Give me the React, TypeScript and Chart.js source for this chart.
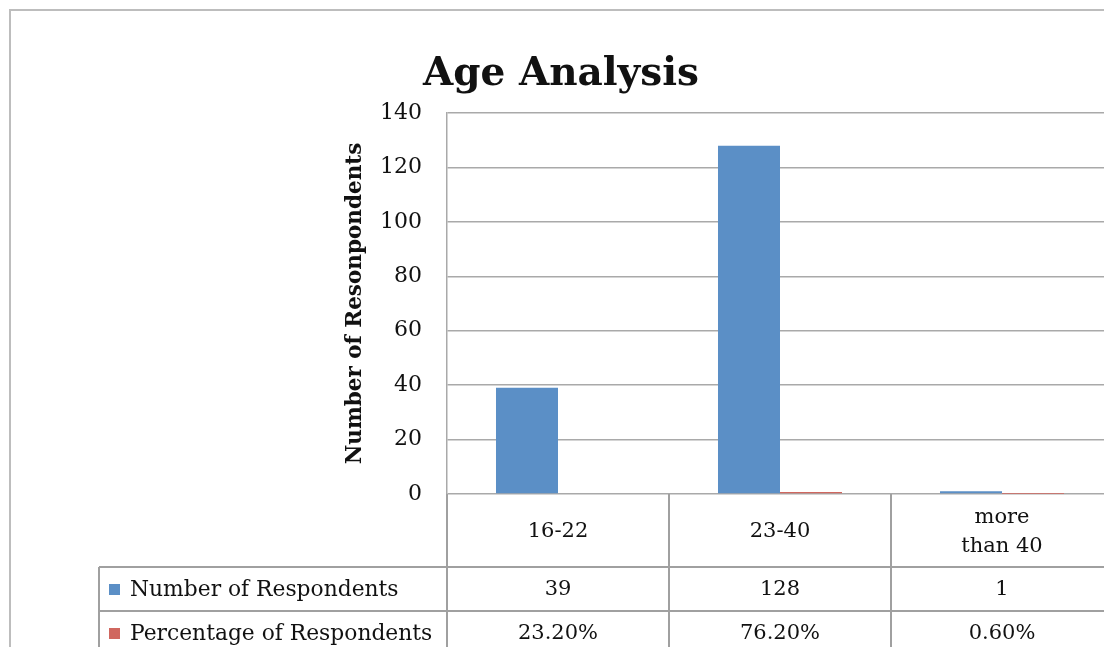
import React, { useEffect, useRef } from "react";
import { Chart, registerables } from "chart.js";

Chart.register(...registerables);

const chartTitle = "Age Analysis";
const yAxisTitle = "Number of Resonpondents";
const categories: (string | string[])[] = ["16-22", "23-40", ["more", "than 40"]];
const seriesNames = ["Number of Respondents", "Percentage of Respondents"];
const respondents = [39, 128, 1];
const percentages = [0.232, 0.762, 0.006];
const yMin = 0;
const yMax = 140;
const yStep = 20;

const BLUE = "#5b8fc6";
const RED = "#d0675f";
const GRID = "#a9a9a9";
const LINE = "#a0a0a0";
const TEXT = "#111111";
const FONT = "'DejaVu Serif', serif";

const fmtPct = (v: number) => (v * 100).toFixed(2) + "%";

const tablePlugin = {
  id: "dataTable",
  afterDraw(chart: any) {
    const ctx: CanvasRenderingContext2D = chart.ctx;
    const { left, right, bottom } = chart.chartArea;
    const xs = chart.scales.x;
    const n = categories.length;
    const cw = (right - left) / n;
    const row1 = bottom + 73;
    const row2 = row1 + 44;
    const row3 = row2 + 44;
    const legendLeft = 99;
    ctx.save();

    // outer chart border (top and left visible)
    ctx.strokeStyle = "#bdbdbd";
    ctx.lineWidth = 2;
    ctx.beginPath();
    ctx.moveTo(10, chart.height + 10);
    ctx.lineTo(10, 10);
    ctx.lineTo(chart.width + 10, 10);
    ctx.stroke();

    // title
    ctx.fillStyle = TEXT;
    ctx.font = `bold 39px ${FONT}`;
    ctx.textAlign = "center";
    ctx.textBaseline = "alphabetic";
    ctx.fillText(chartTitle, 561, 85);

    // table lines
    ctx.strokeStyle = LINE;
    ctx.lineWidth = 2;
    ctx.beginPath();
    for (let i = 0; i <= n; i++) {
      const x = left + i * cw;
      ctx.moveTo(x, bottom);
      ctx.lineTo(x, row3);
    }
    ctx.moveTo(legendLeft, row1);
    ctx.lineTo(legendLeft, row3);
    [row1, row2, row3].forEach((y) => {
      ctx.moveTo(legendLeft, y);
      ctx.lineTo(right, y);
    });
    ctx.stroke();

    // category labels
    ctx.font = `21px ${FONT}`;
    ctx.textBaseline = "middle";
    ctx.textAlign = "center";
    const c1 = bottom + 38;
    categories.forEach((c, i) => {
      const x = xs.getPixelForValue(i);
      const lines = Array.isArray(c) ? c : [c];
      const lh = 29;
      lines.forEach((ln, j) => {
        ctx.fillText(ln, x, c1 + (j - (lines.length - 1) / 2) * lh);
      });
    });

    // values rows
    const r2 = row1 + 23;
    const r3 = row2 + 23;
    respondents.forEach((v, i) => ctx.fillText(String(v), xs.getPixelForValue(i), r2));
    percentages.forEach((v, i) => ctx.fillText(fmtPct(v), xs.getPixelForValue(i), r3));

    // legend keys
    ctx.textAlign = "left";
    ctx.font = `21.8px ${FONT}`;
    [BLUE, RED].forEach((col, k) => {
      const cy = k === 0 ? r2 : r3;
      ctx.fillStyle = col;
      ctx.fillRect(109, cy - 6, 11, 11);
      ctx.fillStyle = TEXT;
      ctx.fillText(seriesNames[k], 130, cy);
    });
    ctx.restore();
  },
};

export default function App() {
  const ref = useRef<HTMLCanvasElement | null>(null);
  useEffect(() => {
    if (!ref.current) return;
    const chart = new Chart(ref.current, {
      type: "bar",
      data: {
        labels: categories as any,
        datasets: [
          { label: seriesNames[0], data: respondents, backgroundColor: BLUE, categoryPercentage: 0.5586, barPercentage: 1 },
          { label: seriesNames[1], data: percentages, backgroundColor: RED, categoryPercentage: 0.5586, barPercentage: 1 },
        ],
      },
      options: {
        animation: false,
        responsive: true,
        maintainAspectRatio: false,
        layout: { padding: { left: 340, top: 113, right: 87, bottom: 186 } },
        plugins: { legend: { display: false }, title: { display: false }, tooltip: { enabled: false } },
        scales: {
          x: { display: false },
          y: {
            min: yMin,
            max: yMax,
            ticks: { stepSize: yStep, padding: 25, color: TEXT, font: { family: FONT, size: 22 } },
            grid: { color: GRID, lineWidth: 1.5, drawTicks: false },
            border: { display: true, color: GRID, width: 1.5 },
            title: { display: true, text: yAxisTitle, color: TEXT, font: { family: FONT, size: 21.5, weight: "bold" }, padding: 3 },
            afterFit: (s: any) => { s.width = 107; },
          },
        },
      },
      plugins: [tablePlugin],
    });
    return () => chart.destroy();
  }, []);
  return (
    <div style={{ position: "fixed", top: 0, left: 0, width: "100vw", height: "100vh", overflow: "hidden", background: "#fff" }}>
      <div style={{ position: "relative", width: 1200, height: 680 }}>
        <canvas ref={ref} />
      </div>
    </div>
  );
}
